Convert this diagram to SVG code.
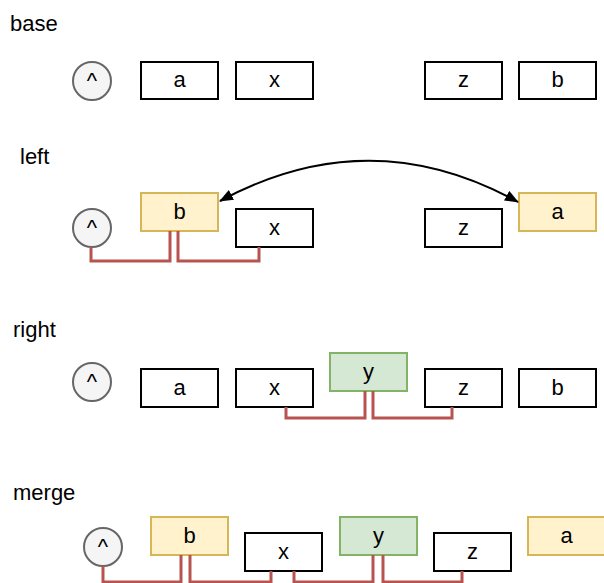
<svg xmlns="http://www.w3.org/2000/svg" width="604" height="583" viewBox="0 0 604 583">
  <style>
    text { font-family: "Liberation Sans", Arial, Helvetica, sans-serif; fill: #000; }
    .title { font-size: 22px; }
    .lbl { font-size: 22px; text-anchor: middle; }
    .box { fill: #ffffff; stroke: #000000; stroke-width: 2; }
    .chg { fill: #fff2cc; stroke: #d6b656; stroke-width: 2; }
    .add { fill: #d5e8d4; stroke: #82b366; stroke-width: 2; }
    .root { fill: #f5f5f5; stroke: #666666; stroke-width: 2; }
    .link { fill: none; stroke: #b85450; stroke-width: 3; }
    .swap { fill: none; stroke: #000000; stroke-width: 2; }
  </style>
  <defs>
    <marker id="tri" viewBox="0 0 14 11" refX="13" refY="5.5" markerWidth="14" markerHeight="11" markerUnits="userSpaceOnUse" orient="auto-start-reverse">
      <path d="M0,0 L14,5.5 L0,11 Z" fill="#000"/>
    </marker>
  </defs>

  <!-- section titles -->
  <text class="title" x="10" y="31">base</text>
  <text class="title" x="20" y="164">left</text>
  <text class="title" x="13" y="337">right</text>
  <text class="title" x="13" y="500">merge</text>

  <!-- base -->
  <g id="base-root"><circle class="root" cx="92" cy="81" r="19"/><text class="lbl" x="92" y="88">^</text></g>
  <g id="base-a"><rect class="box" x="141" y="62" width="77" height="37"/><text class="lbl" x="179.5" y="87">a</text></g>
  <g id="base-x"><rect class="box" x="236" y="62" width="77" height="37"/><text class="lbl" x="274.5" y="87">x</text></g>
  <g id="base-z"><rect class="box" x="425" y="62" width="77" height="37"/><text class="lbl" x="463.5" y="87">z</text></g>
  <g id="base-b"><rect class="box" x="519" y="62" width="77" height="37"/><text class="lbl" x="557.5" y="87">b</text></g>

  <!-- left -->
  <g id="left-root"><circle class="root" cx="92" cy="228" r="19"/><text class="lbl" x="92" y="235">^</text></g>
  <g id="left-b"><rect class="chg" x="141" y="193" width="77" height="38"/><text class="lbl" x="179.5" y="219">b</text></g>
  <g id="left-x"><rect class="box" x="236" y="209" width="77" height="38"/><text class="lbl" x="274.5" y="235">x</text></g>
  <g id="left-z"><rect class="box" x="425" y="209" width="77" height="38"/><text class="lbl" x="463.5" y="235">z</text></g>
  <g id="left-a"><rect class="chg" x="519" y="193" width="77" height="38"/><text class="lbl" x="557.5" y="219">a</text></g>

  <!-- right -->
  <g id="right-root"><circle class="root" cx="92" cy="382" r="19"/><text class="lbl" x="92" y="389">^</text></g>
  <g id="right-a"><rect class="box" x="141" y="369" width="77" height="38"/><text class="lbl" x="179.5" y="395">a</text></g>
  <g id="right-x"><rect class="box" x="236" y="369" width="77" height="38"/><text class="lbl" x="274.5" y="395">x</text></g>
  <g id="right-y"><rect class="add" x="330" y="353" width="77" height="38"/><text class="lbl" x="368.5" y="379">y</text></g>
  <g id="right-z"><rect class="box" x="425" y="369" width="77" height="38"/><text class="lbl" x="463.5" y="395">z</text></g>
  <g id="right-b"><rect class="box" x="519" y="369" width="77" height="38"/><text class="lbl" x="557.5" y="395">b</text></g>

  <!-- merge -->
  <g id="merge-root"><circle class="root" cx="103" cy="547" r="19"/><text class="lbl" x="103" y="554">^</text></g>
  <g id="merge-b"><rect class="chg" x="151" y="517" width="77" height="38"/><text class="lbl" x="189.5" y="543">b</text></g>
  <g id="merge-x"><rect class="box" x="245" y="533" width="77" height="38"/><text class="lbl" x="283.5" y="559">x</text></g>
  <g id="merge-y"><rect class="add" x="340" y="517" width="77" height="38"/><text class="lbl" x="378.5" y="543">y</text></g>
  <g id="merge-z"><rect class="box" x="434" y="533" width="77" height="38"/><text class="lbl" x="472.5" y="559">z</text></g>
  <g id="merge-a"><rect class="chg" x="528" y="517" width="77" height="38"/><text class="lbl" x="566.5" y="543">a</text></g>

  <!-- connectors -->
  <g id="connectors">
    <path class="swap" d="M220,201 Q370,120 518,202" marker-start="url(#tri)" marker-end="url(#tri)"/>

    <path class="link" d="M91,247 V261 H170 V231"/>
    <path class="link" d="M178,231 V261 H259 V247"/>

    <path class="link" d="M286,407 V418 H365 V391"/>
    <path class="link" d="M373,391 V418 H452 V407"/>

    <path class="link" d="M103,566 V582 H181 V555"/>
    <path class="link" d="M190,555 V582 H271 V571"/>
    <path class="link" d="M294,571 V582 H373 V555"/>
    <path class="link" d="M383,555 V582 H462 V571"/>
  </g>
</svg>
